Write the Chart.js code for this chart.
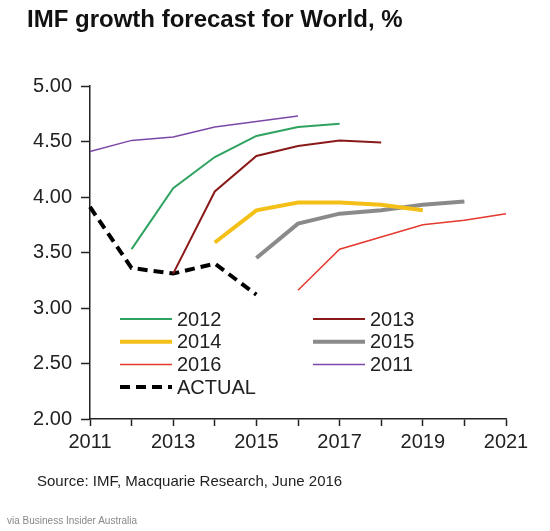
<!DOCTYPE html>
<html>
<head>
<meta charset="utf-8">
<script src="https://cdn.jsdelivr.net/npm/chart.js@4.4.0/dist/chart.umd.min.js"></script>
<style>
    body { margin: 0; background: #fff; font-family: "Liberation Sans", Arial, sans-serif; }
    #wrap { position: relative; width: 550px; height: 531px; }
    #chart { position: absolute; left: 0; top: 0; }
    .title { position: absolute; left: 27px; top: 5px; font-size: 24px; font-weight: bold; color: #111; white-space: nowrap; }
    .source { position: absolute; left: 37px; top: 472px; font-size: 15px; color: #222; white-space: nowrap; }
    .via { position: absolute; left: 7px; top: 515px; font-size: 10px; color: #888; white-space: nowrap; }
</style>
</head>
<body>
<div id="wrap">
    <canvas id="chart" width="550" height="531"></canvas>
    <div class="title">IMF growth forecast for World, %</div>
    <div class="source">Source: IMF, Macquarie Research, June 2016</div>
    <div class="via">via Business Insider Australia</div>
</div>
<script>
    // years on the x axis
    var years = ['2011', '2012', '2013', '2014', '2015', '2016', '2017', '2018', '2019', '2020', '2021'];

    // forecast vintages
    var f2012 = [null, 3.53, 4.08, 4.36, 4.55, 4.63, 4.66, null, null, null, null];
    var f2013 = [null, null, 3.31, 4.05, 4.37, 4.46, 4.51, 4.49, null, null, null];
    var f2014 = [null, null, null, 3.59, 3.88, 3.95, 3.95, 3.93, 3.88, null, null];
    var f2015 = [null, null, null, null, 3.45, 3.76, 3.85, 3.88, 3.93, 3.96, null];
    var f2016 = [null, null, null, null, null, 3.16, 3.53, 3.64, 3.75, 3.79, 3.85];
    var f2011 = [4.41, 4.51, 4.54, 4.63, 4.68, 4.73, null, null, null, null, null];
    var actual = [3.91, 3.36, 3.31, 3.40, 3.12, null, null, null, null, null, null];

    var yTicks = [2.0, 2.5, 3.0, 3.5, 4.0, 4.5, 5.0];

    function line(label, data, color, width, dash) {
        return {
            label: label,
            data: data,
            borderColor: color,
            backgroundColor: color,
            borderWidth: width,
            borderDash: dash || [],
            pointRadius: 0,
            tension: 0,
            spanGaps: false
        };
    }

    // two column legend drawn inside the plot
    var insideLegend = {
        id: 'insideLegend',
        afterDraw: function(chart) {
            var ctx = chart.ctx;
            var area = chart.chartArea;
            var x0 = area.left + 30;
            var y0 = area.top + 233;
            ctx.save();
            ctx.font = '20px "Liberation Sans", Arial, sans-serif';
            ctx.textBaseline = 'middle';
            ctx.fillStyle = '#222';
            chart.data.datasets.forEach(function(ds, i) {
                var x = x0 + (i % 2) * 193;
                var y = y0 + Math.floor(i / 2) * 22.7;
                ctx.beginPath();
                ctx.strokeStyle = ds.borderColor;
                ctx.lineWidth = ds.borderWidth;
                ctx.setLineDash(ds.borderDash);
                ctx.moveTo(x, y);
                ctx.lineTo(x + 52, y);
                ctx.stroke();
                ctx.setLineDash([]);
                ctx.fillText(ds.label, x + 57, y + 1);
            });
            ctx.restore();
        }
    };

    var ctx = document.getElementById('chart').getContext('2d');
    window.myLine = new Chart(ctx, {
        type: 'line',
        data: {
            labels: years,
            datasets: [
                line('2012', f2012, '#2ea35f', 2),
                line('2013', f2013, '#8a1a1a', 2),
                line('2014', f2014, '#f4c018', 4),
                line('2015', f2015, '#8a8a8a', 4),
                line('2016', f2016, '#e4392d', 1.5),
                line('2011', f2011, '#7b48a8', 1.5),
                line('ACTUAL', actual, '#000000', 4, [10, 6])
            ]
        },
        plugins: [insideLegend],
        options: {
            responsive: false,
            animation: false,
            layout: {
                padding: { left: 32, top: 86, right: 44, bottom: 72 }
            },
            plugins: {
                legend: { display: false },
                tooltip: { enabled: false }
            },
            scales: {
                x: {
                    offset: false,
                    afterFit: function(scale) { scale.height = 40; },
                    border: { display: true, color: '#222', width: 1.5 },
                    grid: { drawOnChartArea: false, drawTicks: true, tickLength: 7, tickColor: '#222', tickWidth: 1.5 },
                    ticks: {
                        autoSkip: false,
                        maxRotation: 0,
                        padding: 4,
                        color: '#222',
                        font: { family: '"Liberation Sans", Arial, sans-serif', size: 20 },
                        callback: function(value, index) {
                            return index % 2 === 0 ? this.getLabelForValue(value) : '';
                        }
                    }
                },
                y: {
                    min: 2,
                    max: 5,
                    afterFit: function(scale) { scale.width = 58; },
                    afterBuildTicks: function(scale) {
                        scale.ticks = yTicks.map(function(v) { return { value: v }; });
                    },
                    border: { display: true, color: '#222', width: 1.5 },
                    grid: { drawOnChartArea: false, drawTicks: true, tickLength: 9, tickColor: '#222', tickWidth: 1.5 },
                    ticks: {
                        padding: 9,
                        color: '#222',
                        font: { family: '"Liberation Sans", Arial, sans-serif', size: 20 },
                        callback: function(value) { return Number(value).toFixed(2); }
                    }
                }
            }
        }
    });
</script>
</body>
</html>
